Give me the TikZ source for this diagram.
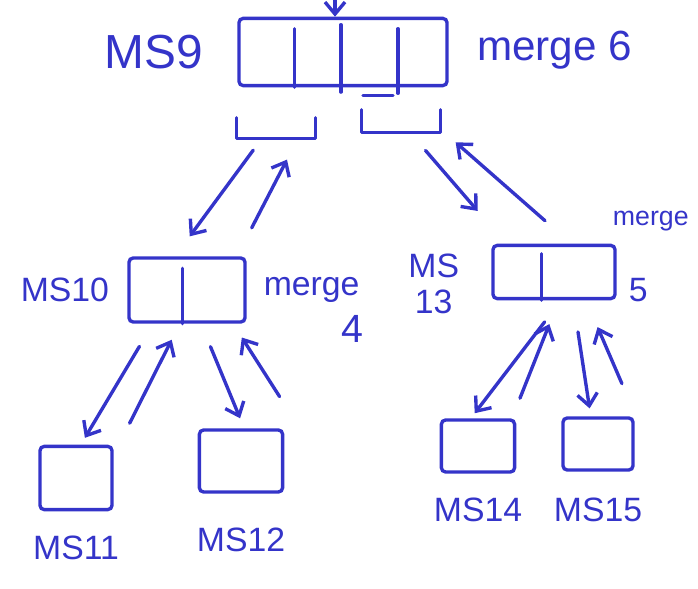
\documentclass[tikz,border=0pt]{standalone}
\usepackage{fontspec}
\setmainfont{Liberation Sans}
\usetikzlibrary{arrows.meta, positioning, calc}
\definecolor{InkBlue}{HTML}{3434C9}

\begin{document}
\begin{tikzpicture}[x=0.025cm, y=-0.025cm, >={Straight Barb[length=0.3cm,width=0.5cm]}, every node/.style={text=InkBlue}]
    \tikzstyle{box} = [rectangle, draw=InkBlue, line width=2.4pt, rounded corners=3pt]
    \tikzstyle{gap} = [rectangle, minimum width=1.95cm, minimum height=0.5cm]
    \tikzstyle{lbl} = [inner sep=0pt, font=\fontsize{24}{26}\selectfont]
    \tikzstyle{ink} = [draw=InkBlue, line width=2.4pt, line cap=round, line join=round]
    \tikzstyle{line} = [ink, ->]

    \useasboundingbox (0,0) rectangle (698,589);

    % sort boxes
    \node [box, minimum width=5.2cm, minimum height=1.68cm] (ms9) at (343,52) {};
    \node [gap] (lb) at (276,128) {};
    \node [gap, minimum height=0.55cm] (rb) at (401,121) {};
    \node [box, minimum width=2.9cm, minimum height=1.6cm] (ms10) at (187,290) {};
    \node [box, minimum width=3.05cm, minimum height=1.33cm] (ms13) at (554,272) {};
    \node [box, minimum width=1.8cm, minimum height=1.58cm] (ms11) at (76,478) {};
    \node [box, minimum width=2.08cm, minimum height=1.55cm] (ms12) at (241,461) {};
    \node [box, minimum width=1.83cm, minimum height=1.3cm] (ms14) at (478,446) {};
    \node [box, minimum width=1.75cm, minimum height=1.3cm] (ms15) at (598,444) {};

    % cells
    \draw [ink] ($(ms9.north west)!0.27!(ms9.north east)$) ++(0,-0.3cm) -- ($(ms9.south west)!0.27!(ms9.south east)$);
    \draw [ink] ($(ms9.north west)!0.49!(ms9.north east)$) ++(0,-0.2cm) -- ([yshift=-0.12cm]$(ms9.south west)!0.49!(ms9.south east)$);
    \draw [ink] ($(ms9.north west)!0.76!(ms9.north east)$) ++(0,-0.3cm) -- ([yshift=-0.15cm]$(ms9.south west)!0.76!(ms9.south east)$);
    \draw [ink] ([xshift=0.5cm, yshift=-0.2cm]ms9.south) -- ++(0.75cm,0);
    \draw [ink] ($(ms10.north west)!0.46!(ms10.north east)$) ++(0,-0.3cm) -- ($(ms10.south west)!0.46!(ms10.south east)$);
    \draw [ink] ($(ms13.north west)!0.4!(ms13.north east)$) ++(0,-0.25cm) -- ($(ms13.south west)!0.4!(ms13.south east)$);
    \draw [ink] (lb.north west) -- (lb.south west) -- (lb.south east) -- (lb.north east);
    \draw [ink] (rb.north west) -- (rb.south west) -- (rb.south east) -- (rb.north east);

    % labels
    \node [lbl, font=\fontsize{34}{36}\selectfont, left=0.85cm of ms9] (ms9lbl) {MS9};
    \node [lbl, font=\fontsize{30}{32}\selectfont, right=0.7cm of ms9, yshift=0.05cm] (mg9) {merge 6};
    \node [lbl, left=0.45cm of ms10] (ms10lbl) {MS10};
    \node [lbl, right=0.42cm of ms10] (mg10) {merge};
    \node [lbl, font=\fontsize{28}{30}\selectfont, anchor=north east] (mg10n) at ([xshift=0.1cm, yshift=-0.3cm]mg10.south east) {4};
    \node [lbl, align=center, left=0.8cm of ms13, yshift=-0.3cm] (ms13lbl) {MS\\13};
    \node [lbl, font=\fontsize{19}{21}\selectfont, anchor=south west] (mg13) at ([xshift=-0.1cm, yshift=0.3cm]ms13.north east) {merge};
    \node [lbl, right=0.3cm of ms13, yshift=-0.45cm] (mg13n) {5};
    \node [lbl, below=0.6cm of ms11] (ms11lbl) {MS11};
    \node [lbl, below=0.85cm of ms12] (ms12lbl) {MS12};
    \node [lbl, below=0.6cm of ms14] (ms14lbl) {MS14};
    \node [lbl, below=0.65cm of ms15] (ms15lbl) {MS15};

    % split and merge arrows
    \coordinate (feed) at (335,-10);
    \path [line] (feed) -- (feed |- ms9.north);
    \path [line, shorten <=0.37cm, shorten >=0.62cm] ([xshift=-0.35cm]lb.south) -- ([xshift=-0.3cm]ms10.north);
    \path [line, shorten <=0.8cm, shorten >=0.6cm] ([xshift=1.25cm]ms10.north) -- ([xshift=0.55cm]lb.south);
    \path [line, shorten <=0.6cm, shorten >=1.08cm] ([xshift=0.22cm]rb.south) -- ([xshift=-1.2cm]ms13.north);
    \path [line, shorten <=0.87cm, shorten >=0.38cm] ([xshift=0.43cm]ms13.north) -- ([xshift=1.08cm]rb.south);
    \path [line, shorten <=0.66cm, shorten >=0.2cm] ([xshift=-0.85cm]ms10.south) -- ([xshift=0.12cm]ms11.north);
    \path [line, shorten <=0.6cm, shorten >=0.45cm] ([xshift=1.07cm]ms11.north) -- ([xshift=-0.18cm]ms10.south);
    \path [line, shorten <=0.62cm, shorten >=0.27cm] ([xshift=0.35cm]ms10.south) -- ([xshift=0.08cm]ms12.north);
    \path [line, shorten <=0.94cm, shorten >=0.41cm] ([xshift=1.47cm]ms12.north) -- ([xshift=1.15cm]ms10.south);
    \path [line, shorten <=0.68cm, shorten >=0.16cm] ([xshift=0.18cm]ms13.south) -- ([xshift=-0.18cm]ms14.north);
    \path [line, shorten <=0.54cm, shorten >=0.64cm] ([xshift=0.85cm]ms14.north) -- ([xshift=0.12cm]ms13.south);
    \path [line, shorten <=0.8cm, shorten >=0.2cm] ([xshift=0.48cm]ms13.south) -- ([xshift=-0.18cm]ms15.north);
    \path [line, shorten <=0.89cm, shorten >=0.73cm] ([xshift=0.95cm]ms15.north) -- ([xshift=0.8cm]ms13.south);
\end{tikzpicture}
\end{document}
